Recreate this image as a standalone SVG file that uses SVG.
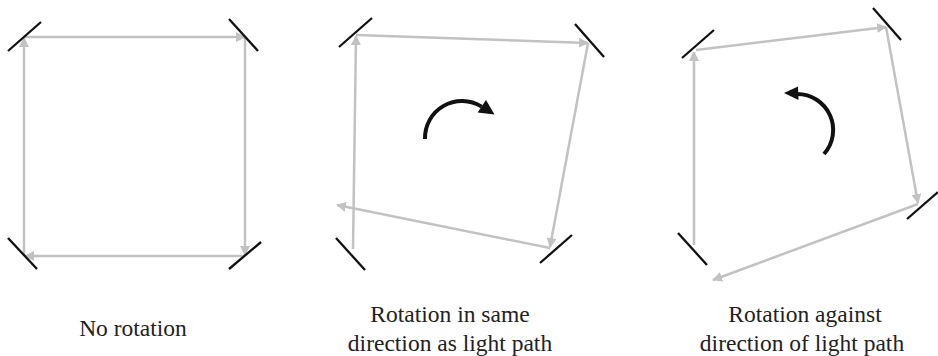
<svg xmlns="http://www.w3.org/2000/svg" width="938" height="356" viewBox="0 0 938 356">
<style>
.mirror{stroke:#111;stroke-width:2.3;stroke-linecap:butt}
.beam{stroke:#c2c2c2;stroke-width:2.5;fill:none;marker-end:url(#ga)}
.rot{stroke:#111;stroke-width:4;fill:none}
.head{fill:#111}
.lbl{font-family:"Liberation Serif","Times New Roman",serif;font-size:23.5px;fill:#222;text-anchor:middle}
</style>
<defs>
<marker id="ga" viewBox="0 0 10 10" refX="9" refY="5" markerWidth="4" markerHeight="4" markerUnits="strokeWidth" orient="auto">
<path d="M0,0 L10,5 L0,10 z" fill="#c2c2c2"/>
</marker>
</defs>
<g id="connectors">
<line class="beam" x1="24" y1="256" x2="24" y2="38"/>
<line class="beam" x1="24" y1="37" x2="245" y2="37"/>
<line class="beam" x1="245" y1="37" x2="245" y2="255"/>
<line class="beam" x1="245" y1="256" x2="25" y2="256"/>
<line class="beam" x1="353" y1="249" x2="356" y2="36"/>
<line class="beam" x1="356" y1="35" x2="588" y2="43"/>
<line class="beam" x1="588" y1="43" x2="550" y2="247"/>
<line class="beam" x1="550" y1="248" x2="337" y2="205"/>
<line class="beam" x1="694" y1="245" x2="694" y2="52"/>
<line class="beam" x1="696" y1="50" x2="886" y2="27"/>
<line class="beam" x1="886" y1="27" x2="918" y2="203"/>
<line class="beam" x1="918" y1="204" x2="713" y2="280"/>
</g>
<g id="panel1">
<line class="mirror" x1="8" y1="51" x2="41" y2="22"/>
<line class="mirror" x1="229" y1="19" x2="258" y2="51"/>
<line class="mirror" x1="8" y1="238" x2="37" y2="269"/>
<line class="mirror" x1="229" y1="269" x2="261" y2="242"/>
<text class="lbl" x="133" y="336">No rotation</text>
</g>
<g id="panel2">
<line class="mirror" x1="339" y1="47" x2="372" y2="18"/>
<line class="mirror" x1="575" y1="24" x2="604" y2="57"/>
<line class="mirror" x1="336" y1="238" x2="365" y2="270"/>
<line class="mirror" x1="540" y1="263" x2="572" y2="235"/>
<path class="rot" d="M425,139 A37,37 0 0 1 481.6,106.6"/>
<path class="head" d="M494.5,114.5 L477.6,112.5 L486,100 z"/>
<text class="lbl" x="450" y="322">Rotation in same</text>
<text class="lbl" x="450" y="351">direction as light path</text>
</g>
<g id="panel3">
<line class="mirror" x1="682" y1="58" x2="714" y2="30"/>
<line class="mirror" x1="873" y1="8" x2="901" y2="40"/>
<line class="mirror" x1="907" y1="219" x2="938" y2="192"/>
<line class="mirror" x1="678" y1="233" x2="707" y2="265"/>
<path class="rot" d="M824,154 A36,36 0 0 0 797,94"/>
<path class="head" d="M784,93 L798,86.5 L798.5,100 z"/>
<text class="lbl" x="805" y="322">Rotation against</text>
<text class="lbl" x="802" y="351">direction of light path</text>
</g>
</svg>
